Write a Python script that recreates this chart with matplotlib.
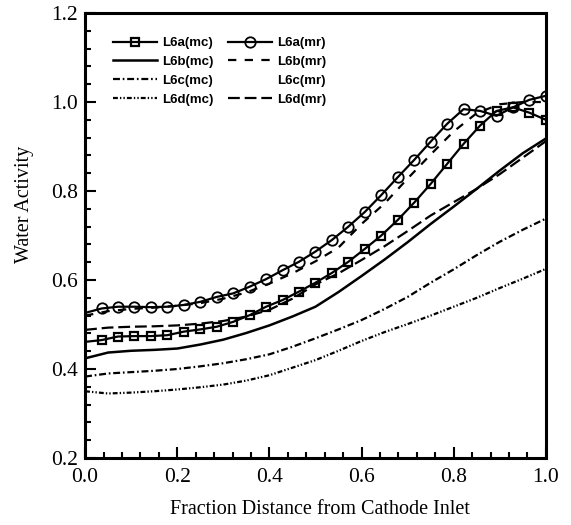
import numpy as np
import matplotlib
matplotlib.use('Agg')
import matplotlib.pyplot as plt
from matplotlib.ticker import MultipleLocator

plt.rcParams['lines.scale_dashes'] = False

# posiciones de los marcadores (cada 1/28) y malla para curvas sin marcador
x_mark = np.linspace(0, 1, 29)
x_grid = np.linspace(0, 1, 21)

l6a_mc = [0.461, 0.465, 0.473, 0.474, 0.474, 0.476, 0.484, 0.489, 0.495, 0.506,
          0.521, 0.540, 0.555, 0.574, 0.594, 0.616, 0.641, 0.670, 0.700, 0.735,
          0.774, 0.816, 0.861, 0.906, 0.947, 0.980, 0.988, 0.976, 0.960]
l6a_mr = [0.526, 0.536, 0.540, 0.540, 0.539, 0.540, 0.544, 0.551, 0.562, 0.570,
          0.585, 0.602, 0.622, 0.641, 0.664, 0.690, 0.720, 0.753, 0.791, 0.831,
          0.870, 0.911, 0.951, 0.984, 0.980, 0.969, 0.988, 1.005, 1.014]

l6b_mc = [0.424, 0.437, 0.441, 0.443, 0.446, 0.455, 0.466, 0.481, 0.498, 0.518,
          0.540, 0.573, 0.609, 0.646, 0.685, 0.726, 0.765, 0.805, 0.846, 0.885, 0.918]
l6b_mr = [0.520, 0.530, 0.535, 0.538, 0.542, 0.548, 0.558, 0.572, 0.592, 0.615,
          0.642, 0.673, 0.726, 0.772, 0.828, 0.882, 0.934, 0.975, 0.995, 1.000, 1.000]
l6c_mc = [0.383, 0.390, 0.393, 0.396, 0.400, 0.406, 0.413, 0.422, 0.433, 0.450,
          0.469, 0.489, 0.510, 0.535, 0.562, 0.594, 0.624, 0.656, 0.686, 0.713, 0.738]
l6d_mc = [0.350, 0.345, 0.347, 0.350, 0.354, 0.359, 0.365, 0.374, 0.386, 0.403,
          0.420, 0.441, 0.463, 0.483, 0.501, 0.520, 0.540, 0.560, 0.582, 0.603, 0.625]
l6d_mr = [0.488, 0.493, 0.495, 0.496, 0.498, 0.502, 0.508, 0.518, 0.533, 0.558,
          0.590, 0.615, 0.645, 0.676, 0.710, 0.745, 0.775, 0.805, 0.838, 0.875, 0.912]

fig = plt.figure(figsize=(5.71, 5.25), dpi=100)
ax = fig.add_axes([0.149, 0.1276, 0.807, 0.8476])

lw = 1.6
h_amc, = ax.plot(x_mark, l6a_mc, color='black', lw=lw, marker='s', ms=5.5,
                 mfc='none', mew=1.6, markevery=list(range(1, 29)), label='L6a(mc)')
h_bmc, = ax.plot(x_grid, l6b_mc, color='black', lw=1.8, label='L6b(mc)')
h_cmc, = ax.plot(x_grid, l6c_mc, color='black', lw=lw, dashes=(5, 2, 1.2, 2),
                 label='L6c(mc)')
h_dmc, = ax.plot(x_grid, l6d_mc, color='black', lw=lw,
                 dashes=(3.5, 1.5, 1, 1.5, 1, 1.5), label='L6d(mc)')
h_amr, = ax.plot(x_mark, l6a_mr, color='black', lw=lw, marker='o', ms=7.5,
                 mfc='none', mew=1.3, markevery=list(range(1, 29)), label='L6a(mr)')
h_bmr, = ax.plot(x_grid, l6b_mr, color='black', lw=lw, dashes=(6, 6), label='L6b(mr)')
h_cmr, = ax.plot([], [], ls='none', label='L6c(mr)')
h_dmr, = ax.plot(x_grid, l6d_mr, color='black', lw=lw, dashes=(8.5, 3.5), label='L6d(mr)')

ax.set_xlim(0, 1)
ax.set_ylim(0.2, 1.2)
ax.xaxis.set_major_locator(MultipleLocator(0.2))
ax.xaxis.set_minor_locator(MultipleLocator(0.04))
ax.yaxis.set_major_locator(MultipleLocator(0.2))
ax.yaxis.set_minor_locator(MultipleLocator(0.04))
ax.xaxis.set_major_formatter(plt.FormatStrFormatter('%.1f'))
ax.yaxis.set_major_formatter(plt.FormatStrFormatter('%.1f'))

for s in ax.spines.values():
    s.set_linewidth(2.2)
ax.tick_params(which='both', direction='in', top=False, right=False, width=1.5)
ax.tick_params(which='major', length=8)
ax.tick_params(which='minor', length=4.5)
ax.tick_params(axis='x', pad=7)
ax.tick_params(axis='y', pad=5)
for lab in ax.get_xticklabels() + ax.get_yticklabels():
    lab.set_fontfamily('Liberation Serif')
    lab.set_fontsize(15.5)

ax.set_xlabel('Fraction Distance from Cathode Inlet', family='Liberation Serif',
              fontsize=14.5)
ax.set_ylabel('Water Activity', family='Liberation Serif', fontsize=14.5)
ax.xaxis.set_label_coords(0.51, -0.095)
ax.yaxis.set_label_coords(-0.11, 0.57)

handles = [h_amc, h_bmc, h_cmc, h_dmc, h_amr, h_bmr, h_cmr, h_dmr]
ax.legend(handles=handles, ncol=2, loc='upper left', bbox_to_anchor=(0.05, 0.958),
          frameon=False, handlelength=3.3, handletextpad=0.4, columnspacing=1.1,
          labelspacing=0.5, borderaxespad=0,
          prop={'family': 'Liberation Sans', 'weight': 'bold', 'size': 9.5})

fig.savefig('out.png', dpi=100)
